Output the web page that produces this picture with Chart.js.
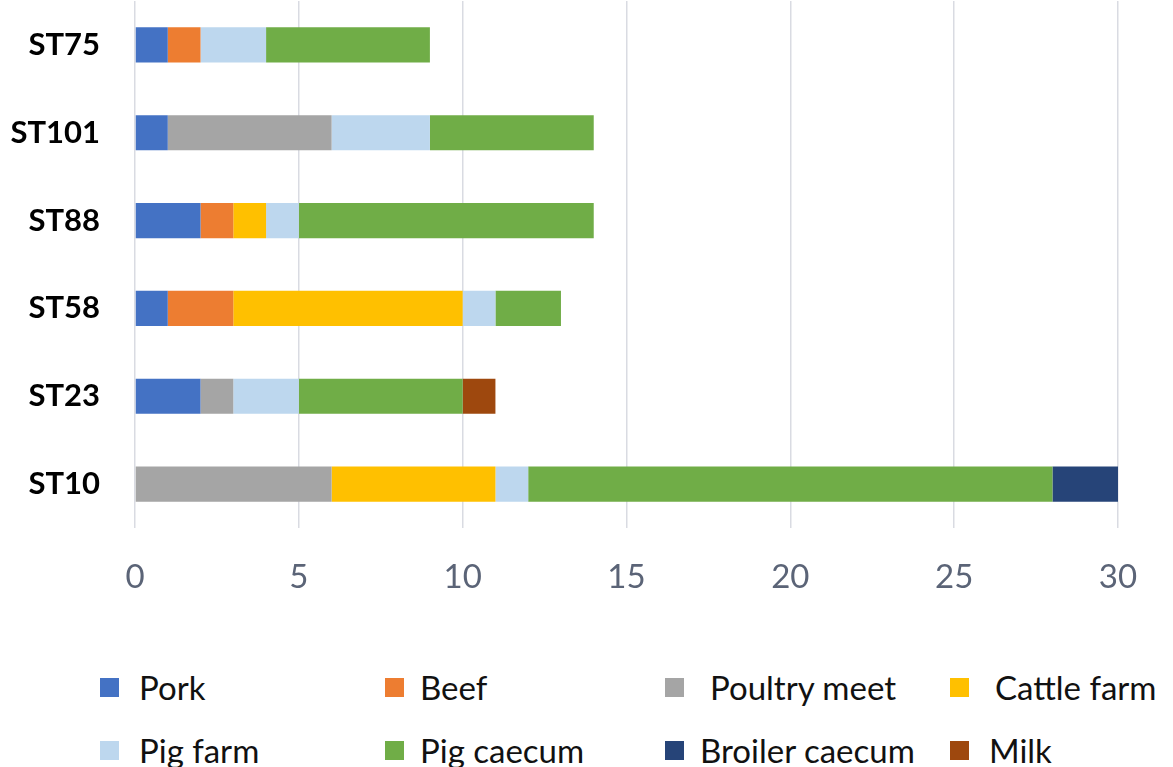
<!DOCTYPE html>
<html lang="en">
  <head>
    <meta charset="UTF-8" />
    <title>ST distribution</title>
    <script src="https://cdn.jsdelivr.net/npm/chart.js"></script>
    <style>
      body { margin: 0; background: #fff; }
      #wrap { position: relative; width: 1173px; height: 767px; overflow: hidden; }
      #box { position: absolute; left: 0; top: 0; width: 1173px; height: 640px; }
      .item { position: absolute; display: flex; align-items: center; font-family: Lato, sans-serif; font-size: 33px; color: #111; white-space: nowrap; }
      .item span.sw { width: 19px; height: 19px; display: inline-block; }
    </style>
  </head>
  <body>
    <div id="wrap">
      <div id="box"><canvas id="stChart"></canvas></div>
      <div id="legend"></div>
    </div>

    <script>
      // data
      const categories = ["ST75", "ST101", "ST88", "ST58", "ST23", "ST10"];
      const pork        = [1, 1, 2, 1, 2, 0];
      const beef        = [1, 0, 1, 2, 0, 0];
      const poultryMeet = [0, 5, 0, 0, 1, 6];
      const cattleFarm  = [0, 0, 1, 7, 0, 5];
      const pigFarm     = [2, 3, 1, 1, 2, 1];
      const pigCaecum   = [5, 5, 9, 2, 5, 16];
      const broiler     = [0, 0, 0, 0, 0, 2];
      const milk        = [0, 0, 0, 0, 1, 0];
      const xTicks = [0, 5, 10, 15, 20, 25, 30];

      const series = [
        { label: "Pork", data: pork, color: "#4472C4" },
        { label: "Beef", data: beef, color: "#ED7D31" },
        { label: "Poultry meet", data: poultryMeet, color: "#A5A5A5" },
        { label: "Cattle farm", data: cattleFarm, color: "#FFC000" },
        { label: "Pig farm", data: pigFarm, color: "#BDD7EE" },
        { label: "Pig caecum", data: pigCaecum, color: "#70AD47" },
        { label: "Broiler caecum", data: broiler, color: "#264478" },
        { label: "Milk", data: milk, color: "#9E480E" },
      ];

      const ctx = document.getElementById("stChart").getContext("2d");
      new Chart(ctx, {
        type: "bar",
        data: {
          labels: categories,
          datasets: series.map((s) => ({
            label: s.label,
            data: s.data,
            backgroundColor: s.color,
            borderWidth: 0,
            barPercentage: 1,
            categoryPercentage: 0.4,
          })),
        },
        options: {
          indexAxis: "y",
          responsive: true,
          maintainAspectRatio: false,
          animation: false,
          layout: { padding: { top: 1, right: 55, left: 0, bottom: 0 } },
          plugins: { legend: { display: false }, tooltip: { enabled: false } },
          scales: {
            x: {
              stacked: true,
              min: 0,
              max: 30,
              afterBuildTicks: (scale) => {
                scale.ticks = xTicks.map((v) => ({ value: v }));
              },
              grid: { color: "#d9dbe2", lineWidth: 1.5, drawTicks: false },
              border: { display: false },
              ticks: { padding: 30, color: "#5b6477", font: { family: "Lato", size: 33 } },
              afterFit: (scale) => { scale.height = 112; },
            },
            y: {
              stacked: true,
              grid: { display: false, drawTicks: false },
              border: { display: false },
              ticks: { padding: 35, color: "#000", font: { family: "Lato", size: 31, weight: "bold" } },
              afterFit: (scale) => {
                scale.width = 135;
                scale.paddingTop = 0;
                scale.paddingBottom = 0;
              },
            },
          },
        },
      });

      // legend laid out in four columns like the original
      const legendPos = [
        [100, 687], [385, 687], [665, 687], [950, 687],
        [100, 750], [385, 750], [665, 750], [950, 750],
      ];
      const gaps = [20, 16, 26, 26, 20, 16, 16, 20];
      const legend = document.getElementById("legend");
      series.forEach((s, i) => {
        const el = document.createElement("div");
        el.className = "item";
        el.style.left = legendPos[i][0] + "px";
        el.style.top = legendPos[i][1] - 20 + "px";
        el.style.height = "40px";
        el.innerHTML = '<span class="sw" style="background:' + s.color + ';margin-right:' + gaps[i] + 'px"></span>' + s.label;
        legend.appendChild(el);
      });
    </script>
  </body>
</html>
